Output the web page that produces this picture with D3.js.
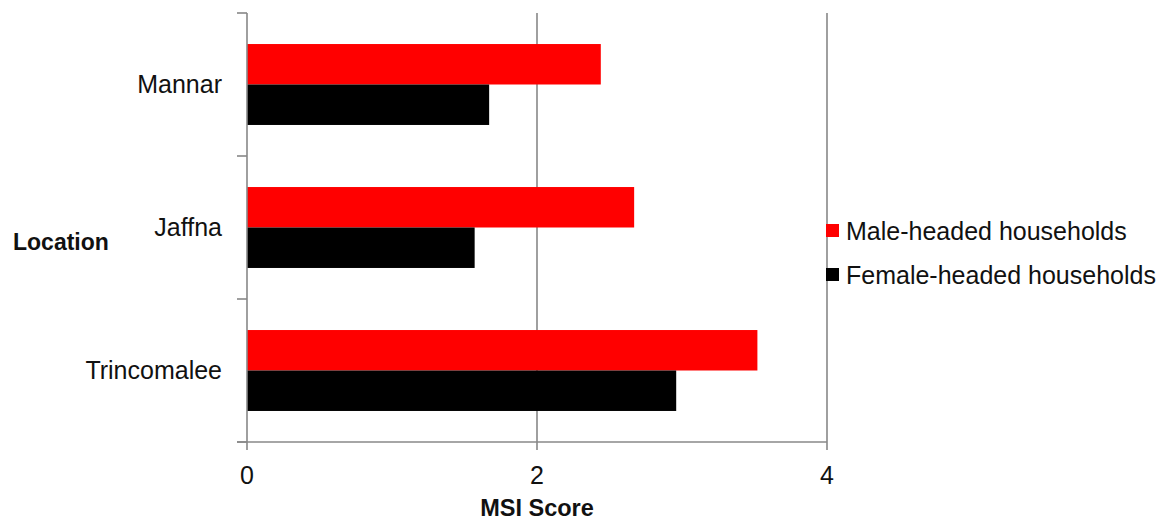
<!DOCTYPE html>
<html><head><meta charset="utf-8">
<script src="https://cdn.jsdelivr.net/npm/d3@7"></script>
<style>body{margin:0;background:#fff}svg{display:block}text{font-family:"Liberation Sans",Arial,sans-serif}</style>
</head><body><svg id="c" width="1164" height="520"></svg>
<script>
const categories = ["Mannar", "Jaffna", "Trincomalee"];
const seriesNames = ["Male-headed households", "Female-headed households"];
const maleValues = [2.44, 2.67, 3.52];
const femaleValues = [1.67, 1.57, 2.96];
const xTicks = [0, 2, 4];
const colors = ["#ff0000", "#000000"];

const svg = d3.select("#c");
const L = 247, R = 827, T = 13, B = 442;
const x = d3.scaleLinear().domain([0, 4]).range([L, R]);
const y = d3.scaleBand().domain(categories).range([T, B]).paddingInner(0.434).paddingOuter(0.217);
const sub = d3.scaleBand().domain(seriesNames).range([0, y.bandwidth()]);
const gridColor = "#888";

// gridlines
svg.append("g").selectAll("line").data(xTicks.slice(1)).join("line")
  .attr("x1", d => x(d)).attr("x2", d => x(d)).attr("y1", T).attr("y2", B)
  .attr("stroke", gridColor).attr("stroke-width", 1.6);

// bars
const series = [maleValues, femaleValues];
series.forEach((vals, si) => {
  svg.append("g").selectAll("rect").data(categories).join("rect")
    .attr("x", x(0)).attr("y", (c) => y(c) + sub(seriesNames[si]))
    .attr("width", (c, i) => x(vals[i]) - x(0)).attr("height", sub.bandwidth())
    .attr("fill", colors[si]);
});

// y axis
const yb = d3.scaleBand().domain(categories).range([T, B]);
const ya = svg.append("g");
ya.append("line").attr("x1", L).attr("x2", L).attr("y1", T).attr("y2", B).attr("stroke", gridColor).attr("stroke-width", 1.6);
const yTickPos = categories.map(c => yb(c)).concat([B]);
ya.selectAll("line.t").data(yTickPos).join("line").attr("class", "t")
  .attr("x1", L - 10).attr("x2", L).attr("y1", d => d).attr("y2", d => d)
  .attr("stroke", gridColor).attr("stroke-width", 1.6);
ya.selectAll("text").data(categories).join("text")
  .attr("x", 222).attr("y", c => yb(c) + yb.bandwidth() / 2)
  .attr("dy", "0.35em").attr("text-anchor", "end").attr("font-size", 25).attr("fill", "#111").text(d => d);

// x axis
const xa = svg.append("g");
xa.append("line").attr("x1", L - 10).attr("x2", R).attr("y1", B).attr("y2", B).attr("stroke", gridColor).attr("stroke-width", 1.6);
xa.selectAll("line.t").data(xTicks).join("line").attr("class", "t")
  .attr("x1", d => x(d)).attr("x2", d => x(d)).attr("y1", B).attr("y2", B + 8)
  .attr("stroke", gridColor).attr("stroke-width", 1.6);
xa.selectAll("text").data(xTicks).join("text")
  .attr("x", d => x(d)).attr("y", 484).attr("text-anchor", "middle")
  .attr("font-size", 25).attr("fill", "#111").text(d => d);

// axis titles
svg.append("text").attr("x", 537).attr("y", 516).attr("text-anchor", "middle")
  .attr("font-size", 23.5).attr("font-weight", "bold").attr("fill", "#111").text("MSI Score");
svg.append("text").attr("x", 13).attr("y", 250)
  .attr("font-size", 23).attr("font-weight", "bold").attr("fill", "#111").text("Location");

// legend
const lg = svg.append("g");
seriesNames.forEach((n, i) => {
  lg.append("rect").attr("x", 826).attr("y", 224 + i * 44).attr("width", 13).attr("height", 13).attr("fill", colors[i]);
  lg.append("text").attr("x", 846).attr("y", 231 + i * 44).attr("dy", "0.35em")
    .attr("font-size", 25).attr("fill", "#111").text(n);
});
</script></body></html>
